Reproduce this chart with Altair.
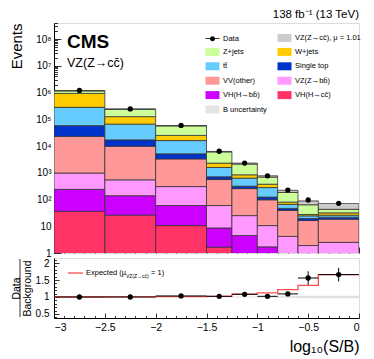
import altair as alt
import pandas as pd

FONT = "Liberation Sans"

# ---------------- data ----------------
edges = [-3.0, -2.5, -2.0, -1.5, -1.25, -1.0, -0.8, -0.6, -0.4, 0.0]

vh_cc = [36, 26, 10.6, 1.65, 0.6, 0.3, 0.2, 0.05, 0.1]
vh_bb = [204, 113, 49, 7.0, 3.9, 1.4, 0.5, 0.15, 0.1]
vz_bb = [740, 406, 245, 51, 20.5, 8.9, 3.5, 1.7, 2.3]
vv_other = [22000, 9255, 3000, 500, 231, 87, 34.8, 14.5, 15.9]
single_top = [35000, 7200, 1800, 150, 59, 26, 7.5, 3.1, 3.5]
ttbar = [222000, 49000, 10900, 870, 315, 156, 19.5, 5.0, 4.1]
w_jets = [650000, 60000, 9000, 720, 210, 95, 14, 3.1, 5.8]
z_jets = [238000, 112600, 32000, 3760, 1290, 315, 104, 36, 11.2]
vz_cc = [2100, 1350, 1000, 240, 170, 80, 38, 24.4, 28]

data_obs = [1.2e6, 2.45e5, 5.9e4, 6.4e3, 2.3e3, 770, 225, 96, 72]

ratio_obs = [1.0, 1.0, 1.03, 1.02, 1.08, 1.02, 1.09, 1.56, 1.66]
ratio_err = [0.003, 0.005, 0.008, 0.015, 0.025, 0.04, 0.05, 0.2, 0.2]
expected_ratio = [1.0, 1.005, 1.01, 1.02, 1.085, 1.12, 1.22, 1.34, 1.66]
b_unc = [0.002, 0.003, 0.005, 0.01, 0.012, 0.02, 0.025, 0.035, 0.035]

L_DATA = "Data"
L_SIG = "VZ(Z→cc̄), μ = 1.01"
L_ZJ = "Z+jets"
L_WJ = "W+jets"
L_TT = "tt̄"
L_ST = "Single top"
L_VV = "VV(other)"
L_VZBB = "VZ(Z→bb̄)"
L_VHBB = "VH(H→bb̄)"
L_VHCC = "VH(H→cc̄)"
L_UNC = "B uncertainty"

legend_order = [L_DATA, L_SIG, L_ZJ, L_WJ, L_TT, L_ST, L_VV, L_VZBB, L_VHBB, L_VHCC, L_UNC]
legend_colors = ["#000000", "#cccccc", "#ccff99", "#ffcc00", "#66ccff", "#0033cc",
                 "#ff9999", "#ff99ff", "#cc00ff", "#ff3366", "#e4e4e4"]

stack_order = [(L_VHCC, vh_cc), (L_VHBB, vh_bb), (L_VZBB, vz_bb), (L_VV, vv_other),
               (L_ST, single_top), (L_TT, ttbar), (L_WJ, w_jets), (L_ZJ, z_jets),
               (L_SIG, vz_cc)]

nb = len(edges) - 1
rows = []
cum = [0.0] * nb
for lab, vals in stack_order:
    for i in range(nb):
        lo_y = cum[i]
        hi_y = cum[i] + vals[i]
        rows.append(dict(proc=lab, lo=edges[i], hi=edges[i + 1],
                         y0=max(lo_y, 0.05), y1=hi_y))
        cum[i] = hi_y
stack_df = pd.DataFrame(rows)

bins_df = pd.DataFrame({
    "lo": edges[:-1], "hi": edges[1:],
    "c": [(edges[i] + edges[i + 1]) / 2 for i in range(nb)],
    "data": data_obs, "total": cum,
    "t0": [cum[i] * (1 - b_unc[i]) for i in range(nb)],
    "t1": [cum[i] * (1 + b_unc[i]) for i in range(nb)],
    "r": ratio_obs,
    "r0": [ratio_obs[i] - ratio_err[i] for i in range(nb)],
    "r1": [ratio_obs[i] + ratio_err[i] for i in range(nb)],
    "u0": [1 - u for u in b_unc], "u1": [1 + u for u in b_unc],
})
exp_df = pd.DataFrame({"x": edges, "e": expected_ratio + [expected_ratio[-1]]})
leg_df = pd.DataFrame({"proc": legend_order})

W, H, HR = 305, 230, 60

xs = alt.Scale(domain=[-3, 0], nice=False, zero=False)
ys = alt.Scale(type="log", domain=[1, 4e8], nice=False)
yr = alt.Scale(domain=[0.38, 2.15], nice=False, zero=False)

x_minor = [round(-3 + 0.1 * k, 2) for k in range(31)]
y_log_ticks = [m * 10 ** k for k in range(9) for m in range(1, 10) if m * 10 ** k <= 4e8]
yr_minor = [round(0.4 + 0.1 * k, 2) for k in range(18)]

x_major_test = "abs(datum.value*2 - round(datum.value*2)) < 0.001"
y_dec_test = "abs(log(datum.value)/LN10 - round(log(datum.value)/LN10)) < 0.001"

sup = "['⁰','¹','²','³','⁴','⁵','⁶','⁷','⁸','⁹']"
log_label = ("datum.value < 5 ? '1' : datum.value < 50 ? '10' : '10' + "
             + sup + "[round(log(datum.value)/LN10)]")

rect_path = "M-1,-0.57L1,-0.57L1,0.57L-1,0.57Z"
data_path = "M-1,-0.06L1,-0.06L1,0.06L-1,0.06ZM0.36,0A0.36,0.36 0 1 1 -0.36,0A0.36,0.36 0 1 1 0.36,0Z"
shape_range = [data_path] + [rect_path] * (len(legend_order) - 1)

color_scale = alt.Scale(domain=legend_order, range=legend_colors)

legend = alt.Legend(
    orient="none", legendX=151, legendY=7, columns=2, direction="horizontal",
    columnPadding=8, rowPadding=0.4, title=None, padding=0, symbolSize=196,
    symbolOpacity=1, labelFont=FONT, labelFontSize=7.5, labelColor="black",
    labelOffset=3, symbolStrokeWidth=0.8, symbolStrokeColor="#555555",
)

# ---------------- top panel ----------------
leg_pts = alt.Chart(leg_df).mark_point(filled=True, stroke="#555555", strokeWidth=0.8).encode(
    x=alt.value(6), y=alt.value(H - 4),
    color=alt.Color("proc:N", scale=color_scale, legend=legend),
    shape=alt.Shape("proc:N", scale=alt.Scale(domain=legend_order, range=shape_range),
                    legend=legend),
)

bars = alt.Chart(stack_df).mark_rect(stroke="#333333", strokeWidth=0.8, clip=True).encode(
    x=alt.X("lo:Q", scale=xs, axis=None),
    x2="hi:Q",
    y=alt.Y("y0:Q", scale=ys, axis=alt.Axis(
        values=[10 ** k for k in range(9)], labelExpr=log_label, ticks=False,
        domain=True, domainColor="black", grid=False, labelFont=FONT,
        labelFontSize=10, labelColor="black", labelPadding=3,
        title="Events", titleFont=FONT, titleFontSize=15, titleFontWeight="normal",
        titleColor="black", titleAngle=270, titleAlign="right",
        titleBaseline="alphabetic", titleX=-33, titleY=0)),
    y2="y1:Q",
    color=alt.Color("proc:N", scale=color_scale, legend=None),
)

top_band = alt.Chart(bins_df).mark_rect(fill="#777777", opacity=0.5).encode(
    x=alt.X("lo:Q", scale=xs, axis=None), x2="hi:Q",
    y=alt.Y("t0:Q", scale=ys, axis=None), y2="t1:Q",
)

points = alt.Chart(bins_df).mark_circle(color="black", size=28, opacity=1).encode(
    x=alt.X("c:Q", scale=xs, axis=None),
    y=alt.Y("data:Q", scale=ys, axis=None),
)

tick_df = pd.DataFrame({"tx": [-1.5], "ty": [10.0], "tr": [1.0]})
top_ticks = alt.Chart(tick_df).mark_point(opacity=0).encode(
    x=alt.X("tx:Q", scale=xs, axis=alt.Axis(
        orient="top", offset=-H, values=x_minor, labels=False, domain=False,
        grid=False, title=None, tickColor="black", tickWidth=0.8,
        tickSize={"condition": {"test": x_major_test, "value": 6}, "value": 3})),
    y=alt.Y("ty:Q", scale=ys, axis=alt.Axis(
        orient="right", offset=-W, values=y_log_ticks, labels=False, domain=False,
        grid=False, title=None, tickColor="black", tickWidth=0.8,
        tickSize={"condition": {"test": y_dec_test, "value": 7}, "value": 3.5})),
)

txt_cms = alt.Chart(tick_df).mark_text(
    text="CMS", font=FONT, fontSize=19, fontWeight="bold", align="left",
    baseline="alphabetic", color="black").encode(x=alt.value(13), y=alt.value(25))
txt_proc = alt.Chart(tick_df).mark_text(
    text="VZ(Z→cc̄)", font=FONT, fontSize=12.5, align="left",
    baseline="alphabetic", color="black").encode(x=alt.value(13), y=alt.value(44))
txt_lumi = alt.Chart(tick_df).mark_text(
    text="138 fb⁻¹ (13 TeV)", font=FONT, fontSize=11.5, align="right",
    baseline="alphabetic", color="black").encode(x=alt.value(W), y=alt.value(-5))

top = alt.layer(leg_pts, bars, top_band, points, top_ticks, txt_cms, txt_proc, txt_lumi).resolve_axis(
    x="independent", y="independent").properties(width=W, height=H)

# ---------------- ratio panel ----------------
r_band = alt.Chart(bins_df).mark_rect(fill="#999999", opacity=0.3).encode(
    x=alt.X("lo:Q", scale=xs, axis=alt.Axis(
        values=[-3, -2.5, -2, -1.5, -1, -0.5, 0], format="~g", ticks=False,
        domain=True, domainColor="black", grid=False, labelFont=FONT,
        labelFontSize=10.5, labelColor="black", labelPadding=4,
        title="log₁₀(S/B)", titleFont=FONT, titleFontSize=16,
        titleFontWeight="normal", titleColor="black", titleAlign="right",
        titleBaseline="alphabetic", titleX=W, titleY=33)),
    x2="hi:Q",
    y=alt.Y("u0:Q", scale=yr, axis=alt.Axis(
        values=[0.5, 1, 1.5, 2], format="~g", ticks=False, domain=True,
        domainColor="black", grid=False, labelFont=FONT, labelFontSize=10,
        labelColor="black", labelPadding=5,
        title=["Data", "Background"], titleFont=FONT, titleFontSize=10.5,
        titleFontWeight="normal", titleColor="black", titleAngle=270,
        titleAlign="center", titleBaseline="alphabetic", titleLineHeight=11,
        titleX=-35, titleY=HR / 2)),
    y2="u1:Q",
)

r_exp = alt.Chart(exp_df).mark_line(color="#ff4d4d", strokeWidth=1.3,
                                     interpolate="step-after").encode(
    x=alt.X("x:Q", scale=xs, axis=None),
    y=alt.Y("e:Q", scale=yr, axis=None),
)

r_hbar = alt.Chart(bins_df).mark_rule(color="black", strokeWidth=1).encode(
    x=alt.X("lo:Q", scale=xs, axis=None), x2="hi:Q",
    y=alt.Y("r:Q", scale=yr, axis=None),
)
r_vbar = alt.Chart(bins_df).mark_rule(color="black", strokeWidth=1).encode(
    x=alt.X("c:Q", scale=xs, axis=None),
    y=alt.Y("r0:Q", scale=yr, axis=None), y2="r1:Q",
)
r_pts = alt.Chart(bins_df).mark_circle(color="black", size=28, opacity=1).encode(
    x=alt.X("c:Q", scale=xs, axis=None),
    y=alt.Y("r:Q", scale=yr, axis=None),
)

r_ticks = alt.Chart(tick_df).mark_point(opacity=0).encode(
    x=alt.X("tx:Q", scale=xs, axis=alt.Axis(
        orient="top", offset=-HR, values=x_minor, labels=False, domain=False,
        grid=False, title=None, tickColor="black", tickWidth=0.8,
        tickSize={"condition": {"test": x_major_test, "value": 5}, "value": 2.5})),
    y=alt.Y("tr:Q", scale=yr, axis=alt.Axis(
        orient="right", offset=-W, values=yr_minor, labels=False, domain=False,
        grid=False, title=None, tickColor="black", tickWidth=0.8,
        tickSize={"condition": {"test": x_major_test, "value": 5}, "value": 2.5})),
)

frac_bar = alt.Chart(tick_df).mark_rule(color="black", strokeWidth=0.8).encode(
    x=alt.value(-34), y=alt.value(1), y2=alt.value(59))

leg_line = alt.Chart(tick_df).mark_rule(color="#ff4d4d", strokeWidth=1.3).encode(
    x=alt.value(14), x2=alt.value(29), y=alt.value(15))
leg_t1 = alt.Chart(tick_df).mark_text(
    text="Expected (μ", font=FONT, fontSize=7.5, align="left", baseline="middle",
    color="black").encode(x=alt.value(32), y=alt.value(15))
leg_t2 = alt.Chart(tick_df).mark_text(
    text="VZ(Z→cc̄)", font=FONT, fontSize=5, align="left", baseline="middle",
    color="black").encode(x=alt.value(72), y=alt.value(17.5))
leg_t3 = alt.Chart(tick_df).mark_text(
    text="= 1)", font=FONT, fontSize=7.5, align="left", baseline="middle",
    color="black").encode(x=alt.value(97), y=alt.value(15))

ratio = alt.layer(r_band, r_exp, r_hbar, r_vbar, r_pts, r_ticks, frac_bar,
                  leg_line, leg_t1, leg_t2, leg_t3).resolve_axis(
    x="independent", y="independent").properties(width=W, height=HR)

chart = alt.vconcat(top, ratio, spacing=5, bounds="flush").properties(
    padding={"left": 0, "top": 0, "right": 0, "bottom": 0}
).configure_view(stroke="black", strokeWidth=1).configure(background="white")

chart.save("out.html", embed_options={"renderer": "svg", "actions": False})
